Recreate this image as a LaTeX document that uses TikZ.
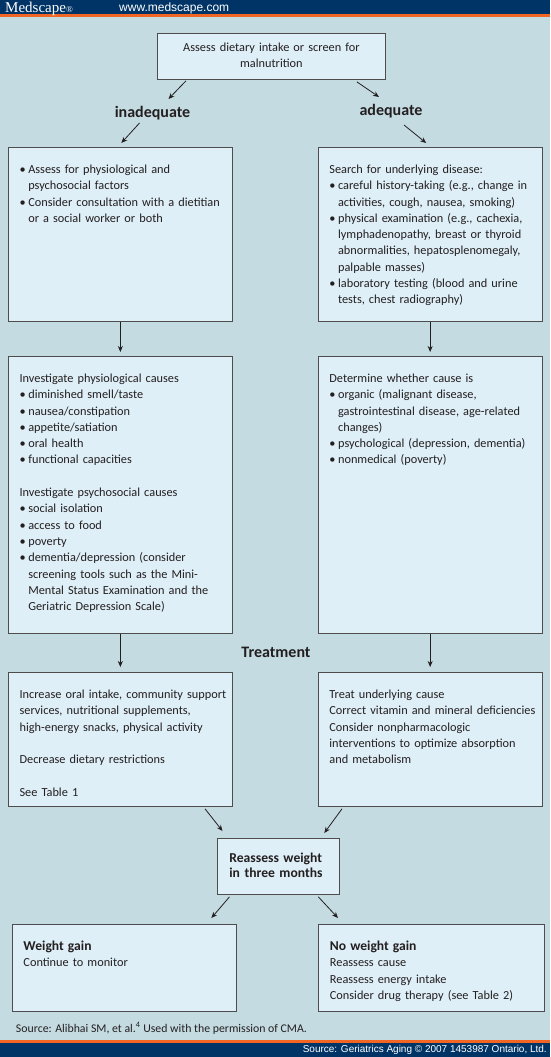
\documentclass[tikz,border=0pt]{standalone}
\usepackage{fontspec}
\setmainfont{Carlito}
\newfontfamily\webfont{Liberation Sans}
\newfontfamily\logofont{Liberation Serif}
\usetikzlibrary{arrows.meta}
\definecolor{navy}{HTML}{003466}
\definecolor{stripe}{HTML}{F26522}
\definecolor{pagebg}{HTML}{C4DBE1}
\definecolor{boxbg}{HTML}{DFEFF7}
\definecolor{ink}{HTML}{231F20}
\newcommand{\bul}{\hangindent=8.7pt\hangafter=1\makebox[8.7pt][l]{\textbullet}}
\newcommand{\skipline}{\par\vspace{16.3pt}}
\tikzset{
  flowbox/.style={draw=ink!80, line width=0.8pt, fill=boxbg, text=ink, inner sep=0pt, anchor=north west,
    text width=#1, text height=26pt, font=\fontsize{12.3}{16.3}\selectfont,
    execute at begin node={\leftskip=11.5pt\rightskip=-4pt plus 1fil\relax}},
  flowbox/.default=224.5pt,
  flowarrow/.style={-{Stealth[length=6pt,width=5pt]}, line width=0.8pt, draw=ink},
  branch/.style={anchor=base, inner sep=0pt, text=ink, font=\fontsize{16}{18}\bfseries\selectfont},
  boldline/.style={font=\fontsize{13.6}{15}\bfseries\selectfont}
}
\begin{document}
\begin{tikzpicture}[x=1pt, y=-1pt]
\useasboundingbox (0,0) rectangle (550,1057);
\fill[pagebg] (0,0) rectangle (550,1057);
\fill[navy] (0,0) rectangle (550,14.3);
\fill[stripe] (0,14.3) rectangle (550,17);
\fill[stripe] (0,1040) rectangle (550,1043.3);
\fill[navy] (0,1043.3) rectangle (550,1057);
\node[anchor=base west, inner sep=0pt, white, font=\logofont\fontsize{15}{15}\selectfont] (logo) at (5,12.7) {Medscape{\fontsize{9}{9}\selectfont\textregistered}};
\node[anchor=base west, inner sep=0pt, white, font=\webfont\fontsize{12}{12}\selectfont] (site) at (119,11.3) {www.medscape.com};

\node[draw=ink!80, line width=0.8pt, fill=boxbg, text=ink, inner sep=0pt, anchor=north west, text width=228pt, align=center, text height=18pt, text depth=28pt, font=\fontsize{12.3}{16}\selectfont] (screen) at (157,33) {Assess dietary intake or screen for\\ malnutrition};
\node[branch] (inad) at (152.5,117) {inadequate};
\node[branch] (adeq) at (391,115) {adequate};

\node[flowbox, text depth=148pt] (assess) at (7.7,147) {\bul Assess for physiological and\newline psychosocial factors\par
\bul Consider consultation with a dietitian\newline or a social worker or both\par};
\node[flowbox, text depth=148pt] (search) at (317.5,147) {Search for underlying disease:\par
\bul careful history-taking (e.g., change in\newline activities, cough, nausea, smoking)\par
\bul physical examination (e.g., cachexia,\newline lymphadenopathy, breast or thyroid\newline abnormalities, hepatosplenomegaly,\newline palpable masses)\par
\bul laboratory testing (blood and urine\newline tests, chest radiography)\par};

\node[flowbox, text depth=251pt] (investigate) at (7.7,356) {Investigate physiological causes\par
\bul diminished smell/taste\par
\bul nausea/constipation\par
\bul appetite/satiation\par
\bul oral health\par
\bul functional capacities\skipline
Investigate psychosocial causes\par
\bul social isolation\par
\bul access to food\par
\bul poverty\par
\bul dementia/depression (consider\newline screening tools such as the Mini-\newline Mental Status Examination and the\newline Geriatric Depression Scale)\par};
\node[flowbox, text depth=251pt] (determine) at (317.5,356) {Determine whether cause is\par
\bul organic (malignant disease,\newline gastrointestinal disease, age-related\newline changes)\par
\bul psychological (depression, dementia)\par
\bul nonmedical (poverty)\par};

\node[branch] (treatment) at (276,657) {Treatment};
\node[flowbox, text depth=108pt] (support) at (7.7,672) {Increase oral intake, community support\\ services, nutritional supplements,\\ high-energy snacks, physical activity\skipline
Decrease dietary restrictions\skipline
See Table 1};
\node[flowbox, text depth=108pt] (underlying) at (317.5,672) {Treat underlying cause\\ Correct vitamin and mineral deficiencies\\ Consider nonpharmacologic\\ interventions to optimize absorption\\ and metabolism};

\node[flowbox=122pt, boldline, text height=24pt, text depth=32pt, execute at begin node={\leftskip=12.5pt}] (reweigh) at (216.5,838) {Reassess weight\\ in three months};
\node[flowbox, text depth=61pt] (gain) at (11.6,924) {{\bfseries\fontsize{13.6}{16.3}\selectfont Weight gain}\\ Continue to monitor};
\node[flowbox=225.7pt, text depth=61pt] (nogain) at (318,924) {{\bfseries\fontsize{13.6}{16.3}\selectfont No weight gain}\\ Reassess cause\\ Reassess energy intake\\ Consider drug therapy (see Table 2)};

\node[anchor=base west, inner sep=0pt, text=ink, font=\fontsize{11.8}{13}\selectfont] (credit) at (15.8,1032) {Source: Alibhai SM, et al.\textsuperscript{4} Used with the permission of CMA.};
\node[anchor=base east, inner sep=0pt, white, font=\webfont\fontsize{10}{12}\selectfont] (journal) at (547,1052) {Source: Geriatrics Aging \textcopyright{} 2007 1453987 Ontario, Ltd.};

\draw[flowarrow] ([shift={(29,1)}]screen.south west) -- ([shift={(16,-18)}]inad.base);
\draw[flowarrow] ([shift={(-29,2)}]screen.south east) -- ([shift={(-12,-18)}]adeq.base);
\draw[flowarrow] ([shift={(-13,6)}]inad.base) -- ([shift={(1,-4)}]assess.north);
\draw[flowarrow] ([shift={(13,10)}]adeq.base) -- ([shift={(-4,-4)}]search.north);
\draw[flowarrow, shorten >=4pt] (assess.south) -- (investigate.north);
\draw[flowarrow, shorten >=4pt] (search.south) -- (determine.north);
\draw[flowarrow, shorten >=5pt] (investigate.south) -- (support.north);
\draw[flowarrow, shorten >=5pt] (determine.south) -- (underlying.north);
\draw[flowarrow] ([shift={(-28,2)}]support.south east) -- ([shift={(6,-7)}]reweigh.north west);
\draw[flowarrow] ([shift={(24.5,2)}]underlying.south west) -- ([shift={(-15,-5)}]reweigh.north east);
\draw[flowarrow] ([shift={(13,2)}]reweigh.south west) -- ([shift={(-25.5,-6)}]gain.north east);
\draw[flowarrow] ([shift={(-21,2)}]reweigh.south east) -- ([shift={(20,-6)}]nogain.north west);
\end{tikzpicture}
\end{document}
